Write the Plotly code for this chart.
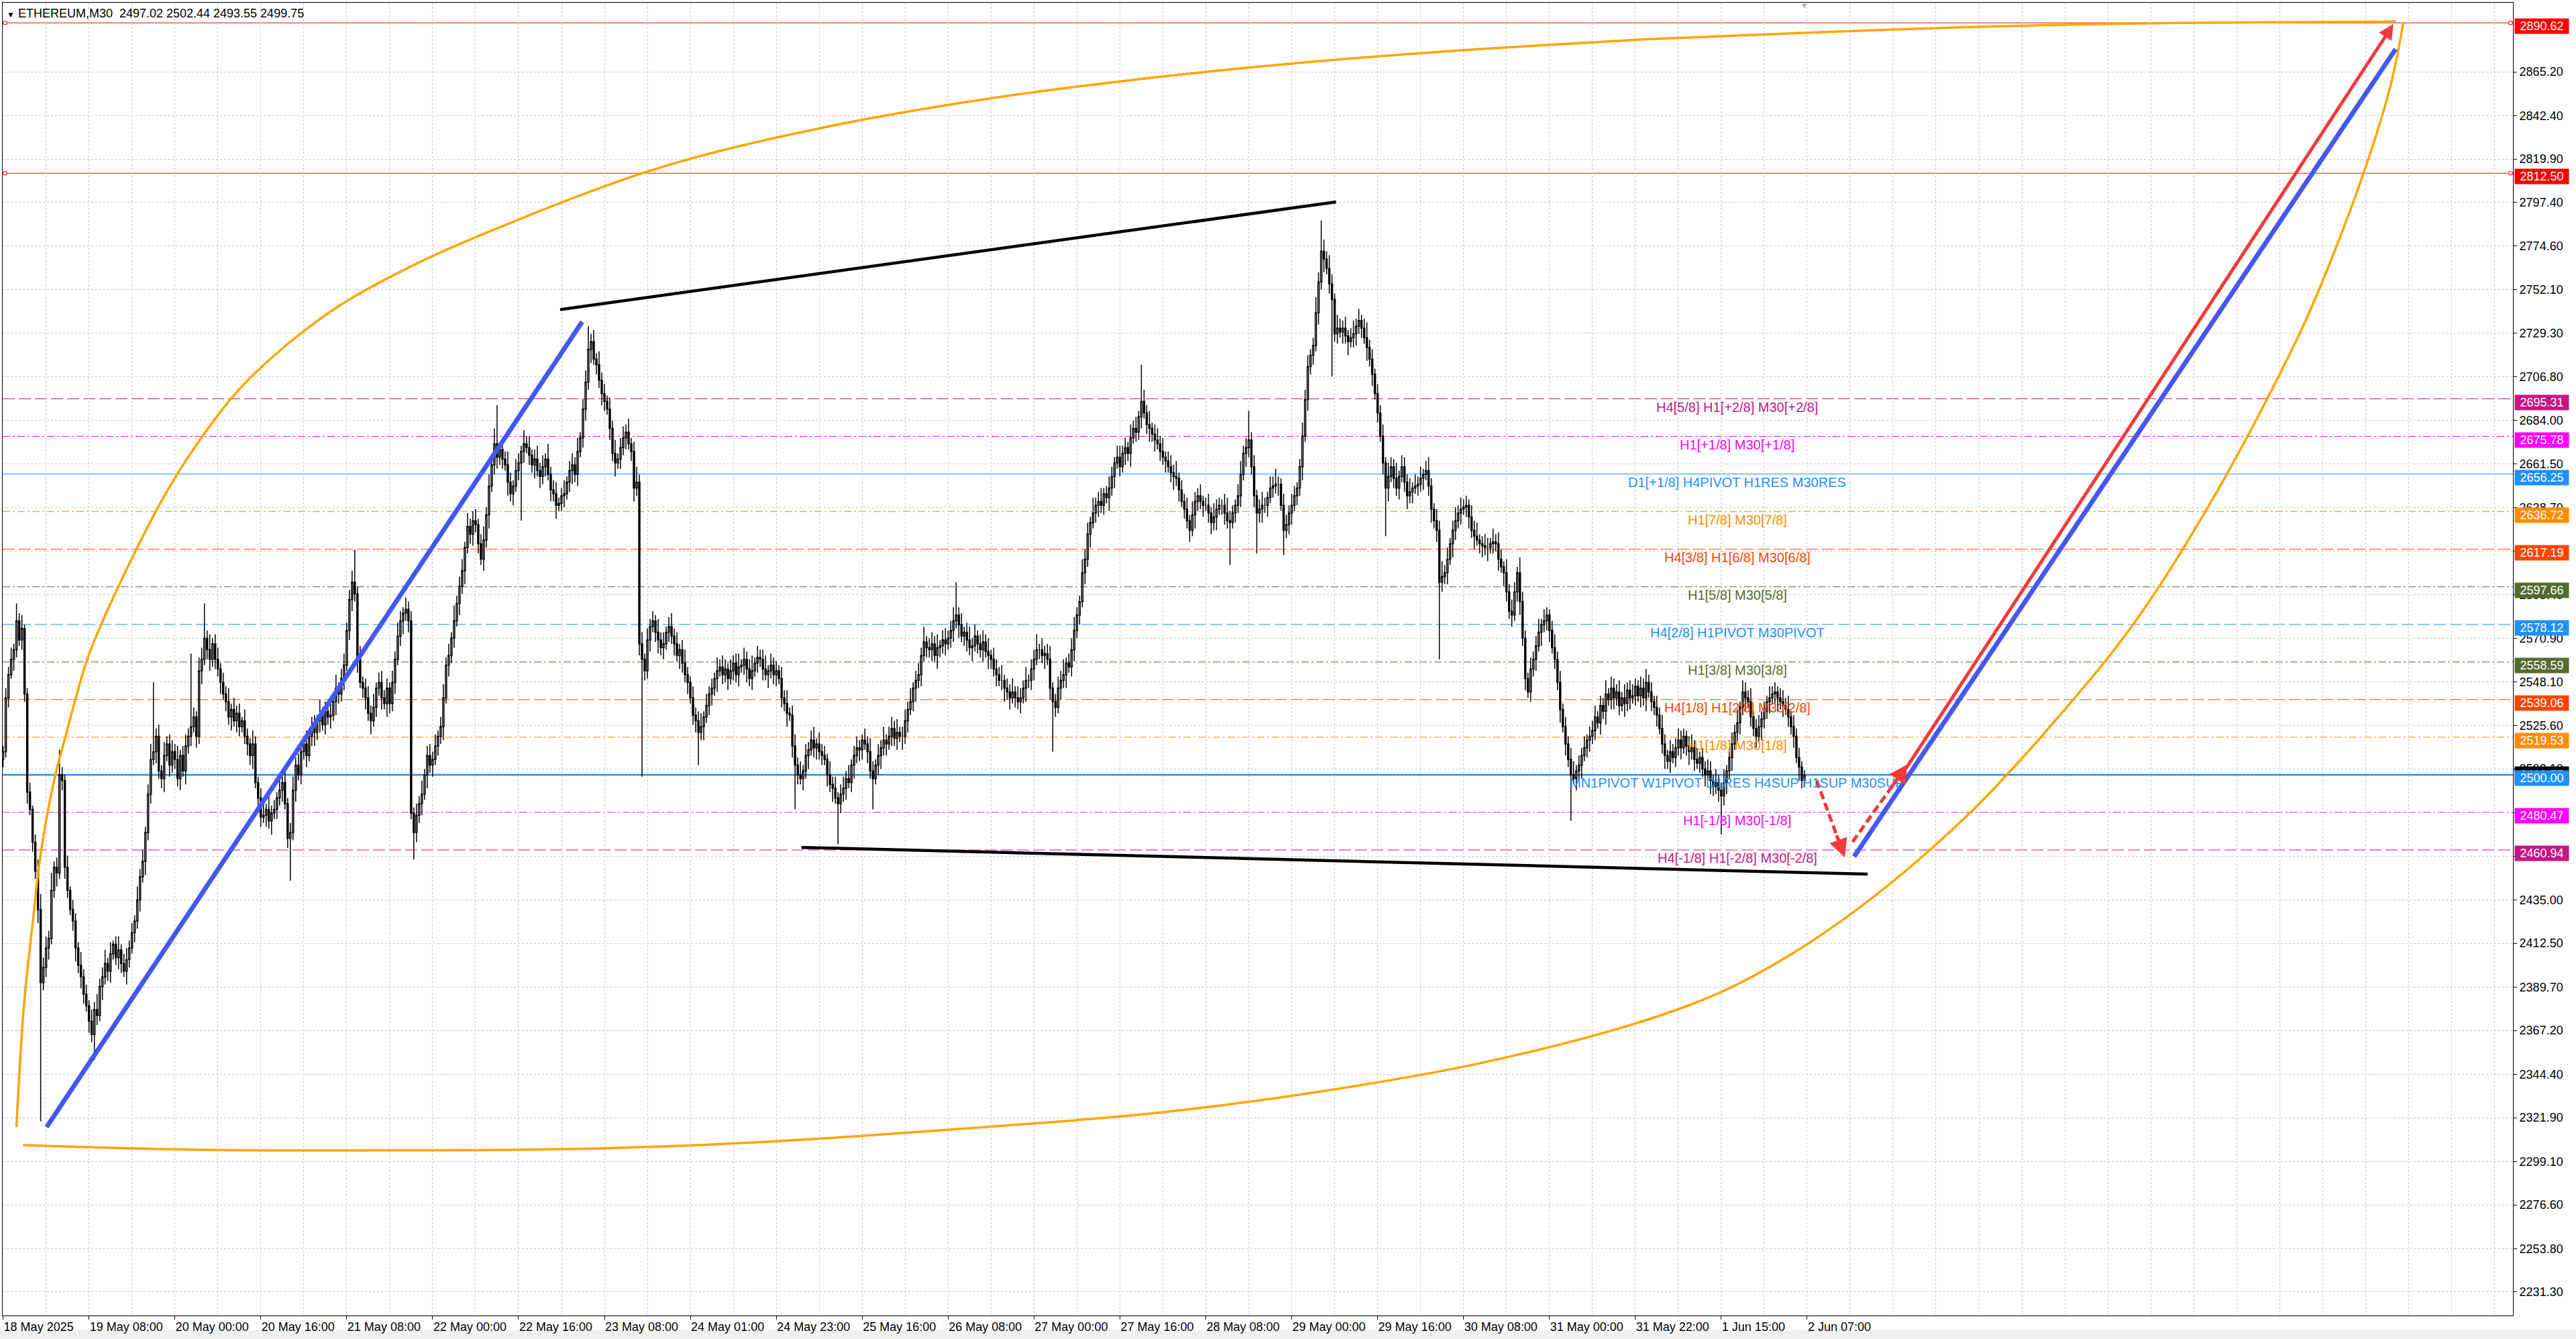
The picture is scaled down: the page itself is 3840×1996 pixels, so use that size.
import plotly.graph_objects as go

# ---------------- DATA ----------------
first_open = 2508.0
close = [
    2512,2540,2552,2560,2565,2580,2570,2576,2542,2491,2482,2465,2450,2430,2392,2400,
    2410,2415,2440,2452,2449,2500,2497,2452,2440,2430,2424,2410,2401,2395,2386,2380,
    2372,2365,2378,2375,2390,2395,2402,2398,2407,2412,2405,2409,2402,2398,2404,2410,
    2418,2424,2435,2447,2455,2470,2490,2508,2512,2520,2502,2498,2510,2516,2505,2512,
    2508,2498,2510,2502,2515,2520,2525,2530,2520,2554,2560,2571,2565,2560,2568,2560,
    2555,2548,2542,2538,2530,2534,2528,2532,2525,2528,2520,2516,2510,2516,2496,2488,
    2478,2479,2482,2476,2480,2482,2488,2492,2496,2485,2467,2470,2492,2505,2500,2512,
    2516,2510,2520,2525,2522,2528,2531,2526,2533,2530,2531,2538,2545,2542,2550,2557,
    2575,2591,2600,2594,2560,2548,2545,2540,2532,2528,2535,2545,2548,2540,2537,2545,
    2537,2548,2560,2572,2580,2584,2586,2580,2480,2470,2479,2485,2490,2500,2510,2505,
    2508,2515,2520,2525,2540,2557,2562,2571,2580,2589,2598,2606,2618,2629,2625,2632,
    2630,2620,2612,2622,2635,2650,2661,2672,2665,2669,2664,2661,2652,2646,2650,2658,
    2662,2668,2672,2670,2666,2661,2664,2658,2655,2660,2664,2656,2648,2646,2640,2641,
    2645,2646,2652,2658,2661,2656,2668,2675,2690,2704,2721,2725,2716,2713,2705,2698,
    2694,2690,2680,2667,2662,2664,2670,2675,2678,2672,2668,2649,2652,2568,2560,2554,
    2570,2577,2580,2574,2570,2566,2568,2574,2577,2572,2568,2562,2565,2558,2552,2548,
    2540,2531,2528,2522,2525,2530,2536,2542,2545,2550,2554,2556,2552,2555,2550,2554,
    2558,2552,2556,2557,2560,2555,2550,2554,2558,2561,2560,2555,2552,2554,2557,2552,
    2554,2550,2540,2537,2532,2531,2515,2505,2500,2498,2502,2510,2513,2518,2514,2516,
    2512,2510,2508,2500,2495,2493,2488,2485,2490,2493,2498,2496,2505,2510,2514,2513,
    2518,2516,2512,2502,2498,2505,2510,2514,2518,2516,2520,2524,2519,2522,2520,2520,
    2528,2534,2538,2545,2549,2552,2562,2569,2566,2565,2568,2562,2566,2567,2570,2568,
    2571,2575,2580,2583,2578,2572,2574,2570,2566,2567,2572,2568,2565,2569,2564,2562,
    2560,2555,2552,2549,2549,2545,2543,2540,2543,2540,2538,2540,2545,2549,2549,2555,
    2560,2565,2565,2562,2563,2560,2545,2538,2535,2545,2549,2552,2558,2556,2565,2575,
    2583,2590,2605,2612,2625,2631,2636,2640,2642,2640,2646,2644,2649,2655,2662,2665,
    2660,2667,2670,2667,2675,2680,2678,2686,2694,2688,2682,2680,2677,2674,2672,2668,
    2665,2663,2660,2657,2655,2654,2648,2642,2638,2632,2627,2635,2642,2645,2642,2640,
    2640,2636,2631,2634,2638,2640,2640,2636,2632,2631,2636,2640,2645,2656,2667,2670,
    2674,2660,2645,2636,2638,2640,2640,2644,2649,2650,2651,2651,2640,2627,2630,2636,
    2640,2645,2649,2660,2676,2695,2712,2718,2723,2740,2756,2772,2768,2763,2755,2747,
    2729,2732,2730,2732,2728,2725,2727,2729,2733,2736,2732,2727,2722,2716,2708,2698,
    2688,2676,2662,2649,2655,2660,2654,2649,2655,2660,2652,2645,2647,2649,2650,2651,
    2654,2656,2658,2650,2638,2632,2627,2600,2603,2605,2612,2620,2627,2632,2636,2638,
    2639,2640,2634,2627,2624,2622,2620,2619,2618,2618,2620,2621,2620,2612,2608,2605,
    2595,2585,2583,2595,2605,2590,2571,2550,2543,2555,2560,2567,2574,2578,2580,2583,
    2575,2566,2560,2548,2534,2525,2516,2508,2500,2498,2502,2505,2510,2514,2518,2520,
    2523,2530,2527,2536,2533,2542,2539,2545,2540,2543,2536,2540,2537,2544,2540,2541,
    2546,2541,2545,2540,2548,2543,2538,2535,2531,2524,2516,2510,2507,2512,2509,2514,
    2518,2514,2520,2515,2512,2514,2508,2506,2509,2503,2500,2502,2497,2494,2496,2492,
    2489,2496,2502,2509,2516,2522,2527,2535,2543,2540,2538,2530,2524,2520,2525,2529,
    2533,2538,2540,2542,2543,2540,2538,2536,2534,2530,2525,2520,2509,2504,2497.02,2499.75,
]
wick_up = [
    3,5,4,6,3,9,4,7,2,3,5,2,4,6,8,5,
    6,4,9,3,5,13,4,3,6,2,5,4,3,7,4,5,
    3,6,4,8,4,5,7,3,6,2,4,7,3,5,6,4,
    5,3,7,4,6,3,5,8,36,4,6,3,7,4,5,6,
    4,7,3,5,6,4,38,5,3,7,6,18,4,8,3,5,
    6,3,5,4,7,3,6,4,5,2,6,4,3,7,4,3,
    5,6,3,7,4,5,3,6,4,8,3,5,7,4,6,3,
    4,7,3,5,6,3,8,4,5,3,6,4,7,3,5,6,
    4,5,6,17,4,7,3,5,6,4,7,3,5,6,4,5,
    3,6,4,7,5,3,6,4,5,3,6,4,7,3,5,6,
    4,6,3,5,7,4,6,3,8,4,5,6,3,7,4,5,
    6,3,5,7,4,6,5,8,20,3,6,4,7,5,3,6,
    5,3,7,4,6,3,5,7,4,6,3,8,4,5,6,3,
    4,7,3,5,6,4,7,3,5,6,12,4,6,3,7,4,
    5,3,6,4,7,3,5,6,4,7,3,5,8,4,6,3,
    6,4,5,3,7,4,6,3,5,7,4,6,3,5,7,4,
    3,6,4,5,7,3,6,4,5,3,7,4,6,5,3,6,
    4,5,7,3,6,4,5,8,3,6,4,5,7,3,6,4,
    5,3,6,4,7,3,5,6,4,7,3,6,4,5,7,3,
    6,4,5,3,7,4,6,3,5,6,4,7,3,5,6,4,
    3,6,4,7,5,3,6,4,7,3,5,6,4,7,3,5,
    6,4,7,3,5,6,4,8,3,5,6,4,7,3,5,6,
    4,5,7,17,4,6,3,5,7,4,6,3,5,6,4,7,
    3,6,5,4,8,3,5,4,7,3,6,5,4,7,3,5,
    5,8,3,6,4,5,7,3,4,6,5,8,3,5,6,7,
    4,3,7,5,6,3,8,4,5,7,3,4,6,5,3,6,
    6,4,5,3,7,4,6,3,19,6,4,7,3,5,6,4,
    7,3,5,6,4,8,3,5,4,6,3,7,5,4,6,3,
    4,6,3,7,5,4,3,6,8,5,4,3,6,7,4,5,
    15,4,6,3,5,7,4,3,6,5,8,4,3,6,5,4,
    6,5,3,4,7,5,6,3,4,8,5,16,6,4,7,5,
    3,7,5,4,6,3,5,7,4,6,3,5,8,4,5,3,
    5,4,6,3,7,5,4,8,3,6,5,4,7,3,6,4,
    6,3,5,7,4,3,6,5,8,4,6,3,5,7,4,6,
    4,5,3,6,5,7,3,4,6,5,3,7,4,6,5,3,
    7,4,6,5,3,8,5,4,3,6,4,5,7,3,6,4,
    3,5,7,4,6,3,5,4,6,7,3,5,4,6,3,5,
    5,6,3,5,4,7,3,6,5,4,6,3,7,4,5,6,
    4,3,6,5,7,4,5,3,6,4,7,5,3,6,4,5,
    6,5,4,3,5,7,4,6,3,5,4,6,5,3,7,4,
    4,7,3,5,6,4,7,3,6,5,4,7,3,5,6,4,
    5,3,6,4,5,3,5,6,4,7,3,6,4,5,3,2.69,
]
wick_dn = [
    4,3,5,2,6,4,3,5,4,6,3,5,4,7,72,4,
    5,6,3,4,7,3,5,6,4,3,5,7,4,6,5,3,
    6,4,13,5,3,7,4,5,6,3,4,6,5,3,7,4,
    3,5,4,6,3,7,4,5,3,6,4,5,7,3,6,4,
    5,4,6,3,7,4,5,3,6,4,7,3,5,6,4,5,
    4,6,3,5,4,7,3,6,5,3,4,6,5,7,3,6,
    5,3,6,4,7,3,5,4,6,3,5,22,4,6,3,5,
    4,6,3,5,7,4,6,3,5,4,6,3,7,5,4,6,
    3,5,6,4,7,3,5,6,4,7,3,5,4,6,3,7,
    5,4,6,3,5,7,4,6,3,14,5,4,6,3,7,4,
    6,3,5,4,7,3,6,4,5,3,6,4,7,3,5,6,
    4,5,3,6,4,7,3,5,6,4,5,3,7,4,6,3,
    5,30,6,3,5,4,7,3,6,4,5,3,6,4,7,3,
    4,6,3,5,7,4,6,3,5,6,4,7,3,5,4,6,
    5,3,6,4,7,3,5,4,6,3,5,7,4,6,61,5,
    4,6,3,5,7,4,6,3,5,4,6,3,7,5,4,6,
    3,5,6,17,4,7,3,5,6,4,7,3,5,4,6,3,
    5,4,6,3,5,7,4,6,3,5,4,6,3,7,4,5,
    6,3,5,4,7,3,6,23,5,3,6,4,7,3,5,6,
    4,5,3,6,4,7,3,21,5,4,6,3,5,7,4,6,
    5,3,6,4,16,3,5,7,4,6,3,5,4,6,3,7,
    4,6,3,5,7,4,6,3,5,4,6,3,7,5,4,6,
    3,5,6,4,7,3,5,6,4,7,3,5,4,6,3,7,
    5,4,6,3,5,7,4,6,3,5,4,6,3,7,4,5,
    6,3,5,4,7,3,6,26,5,3,6,4,7,3,5,6,
    4,5,3,6,4,7,3,5,6,4,5,3,7,4,6,3,
    5,3,6,4,7,3,5,4,6,3,5,7,4,6,3,5,
    4,6,3,5,7,4,6,3,5,4,6,3,7,5,4,6,
    3,5,6,4,7,3,5,6,4,22,3,5,4,6,3,7,
    5,4,6,21,5,7,4,6,3,5,4,6,3,13,4,5,
    6,3,5,4,7,3,6,4,5,3,6,4,7,3,5,40,
    4,5,3,6,4,7,3,5,6,4,5,3,7,4,6,3,
    5,3,6,25,7,3,5,4,6,3,5,7,4,6,3,5,
    4,6,3,5,7,4,6,40,5,4,6,3,7,5,4,6,
    3,5,6,4,7,3,5,6,4,7,3,5,4,6,3,7,
    5,4,6,3,5,7,4,6,3,5,4,6,3,7,4,5,
    6,3,5,4,7,3,6,4,24,3,6,4,7,3,5,6,
    4,5,3,6,4,7,3,5,6,4,5,3,7,4,6,3,
    5,3,6,4,7,3,5,4,6,3,5,7,4,6,3,5,
    4,6,3,5,7,4,6,3,5,4,6,3,7,5,4,6,
    20,5,6,4,7,3,5,6,4,7,3,5,4,6,3,7,
    5,4,6,3,5,7,4,6,3,5,4,6,3,7,4,3.47,
]

x_tick_bars = [0, 32, 64, 96, 128, 160, 192, 224, 256, 288, 320, 352, 384, 416,
               448, 480, 512, 544, 576, 608, 640, 672]
x_tick_text = ["18 May 2025", "19 May 08:00", "20 May 00:00", "20 May 16:00",
               "21 May 08:00", "22 May 00:00", "22 May 16:00", "23 May 08:00",
               "24 May 01:00", "24 May 23:00", "25 May 16:00", "26 May 08:00",
               "27 May 00:00", "27 May 16:00", "28 May 08:00", "29 May 00:00",
               "29 May 16:00", "30 May 08:00", "31 May 00:00", "31 May 22:00",
               "1 Jun 15:00", "2 Jun 07:00"]
y_ticks = [2865.20, 2842.40, 2819.90, 2797.40, 2774.60, 2752.10, 2729.30, 2706.80,
           2684.00, 2661.50, 2638.70, 2616.20, 2593.40, 2570.90, 2548.10, 2525.60,
           2503.10, 2480.30, 2457.80, 2435.00, 2412.50, 2389.70, 2367.20, 2344.40,
           2321.90, 2299.10, 2276.60, 2253.80, 2231.30]

level_prices = [2890.62, 2812.50, 2695.31, 2675.78, 2656.25, 2636.72, 2617.19,
                2597.66, 2578.12, 2558.59, 2539.06, 2519.53, 2500.00, 2480.47, 2460.94]
level_colors = ["#FF0000", "#FF0000", "#C71585", "#FF00FF", "#1E90FF", "#FF8C00",
                "#FF4500", "#556B2F", "#1E90FF", "#556B2F", "#FF4500", "#FF8C00",
                "#1E90FF", "#FF00FF", "#C71585"]
level_styles = ["solid", "solid", "dash", "dashdot", "solid", "dashdot", "dash",
                "dashdot", "dash", "dashdot", "dash", "dashdot", "thick", "dashdot", "dash"]
level_labels = ["", "", "H4[5/8] H1[+2/8] M30[+2/8]", "H1[+1/8] M30[+1/8]",
                "D1[+1/8] H4PIVOT H1RES M30RES", "H1[7/8] M30[7/8]",
                "H4[3/8] H1[6/8] M30[6/8]", "H1[5/8] M30[5/8]",
                "H4[2/8] H1PIVOT M30PIVOT", "H1[3/8] M30[3/8]",
                "H4[1/8] H1[2/8] M30[2/8]", "H1[1/8] M30[1/8]",
                "MN1PIVOT W1PIVOT D1RES H4SUP H1SUP M30SUP",
                "H1[-1/8] M30[-1/8]", "H4[-1/8] H1[-2/8] M30[-2/8]"]
header_text = "ETHEREUM,M30  2497.02 2502.44 2493.55 2499.75"
last_price = 2499.75

# drawn objects (bar index, price)
curve_a_bar = [4.97, 7.77, 11.1, 13.3, 16.3, 19.6, 23.1, 27.1, 31.3, 36.3, 43.8, 52.1,
               60.1, 72.3, 90.5, 121.3, 151.8, 182.5, 243.7, 304.7, 365.9, 427.1,
               488.4, 549.6, 610.8, 672.0, 733.2, 794.4, 855.7, 891.2]
curve_a_price = [2317.0, 2380.4, 2424.0, 2451.9, 2478.4, 2500.7, 2519.1, 2540.0, 2559.9,
                 2577.3, 2600.3, 2624.0, 2645.0, 2672.0, 2704.0, 2740.0, 2764.0, 2783.0,
                 2815.0, 2836.0, 2851.0, 2862.0, 2870.5, 2877.0, 2882.0, 2885.5, 2888.5,
                 2890.3, 2891.0, 2891.3]
curve_b_bar = [7.35, 73.8, 146.0, 222.0, 289.0, 348.7, 427.1, 488.4, 549.6, 610.8, 641.3,
               672.0, 702.5, 733.2, 763.7, 794.4, 825.0, 855.7, 867.9, 880.1, 889.3, 894.1]
curve_b_price = [2307.6, 2305.2, 2304.9, 2305.9, 2309.7, 2315.3, 2324.0, 2335.0, 2350.0,
                 2372.0, 2388.0, 2412.0, 2443.0, 2481.0, 2527.0, 2580.0, 2648.0, 2730.0,
                 2770.0, 2816.0, 2858.0, 2891.0]
black_upper_bar = [207.5, 496.5]
black_upper_price = [2741.7, 2797.6]
black_lower_bar = [297.4, 694.5]
black_lower_price = [2462.3, 2448.4]
blue_left_bar = [16.2, 215.7]
blue_left_price = [2317.0, 2735.3]
blue_right_bar = [689.5, 891.2]
blue_right_price = [2457.5, 2877.0]
red_arrow_bar = [708.7, 890.4]
red_arrow_price = [2503.1, 2890.0]
red_dash1_bar = [675.5, 686.0]
red_dash1_price = [2497.2, 2457.1]
red_dash2_bar = [688.9, 709.5]
red_dash2_price = [2465.1, 2505.5]

# ---------------- FIGURE ----------------
W, H = 3840, 1996
ML, MR, MT, MB = 4, 94, 4, 35
FONT = "Liberation Sans, Arial, sans-serif"

opens = [first_open] + close[:-1]
highs = [max(o, c) + u for o, c, u in zip(opens, close, wick_up)]
lows = [min(o, c) - d for o, c, d in zip(opens, close, wick_dn)]
bars = list(range(len(close)))

fig = go.Figure()
fig.add_trace(go.Candlestick(
    x=bars, open=opens, high=highs, low=lows, close=close,
    increasing=dict(line=dict(color="black", width=1.5), fillcolor="white"),
    decreasing=dict(line=dict(color="black", width=1.5), fillcolor="black"),
    whiskerwidth=0, hoverinfo="skip", showlegend=False))

dash_map = {"solid": "solid", "thick": "solid", "dash": "18px,6px",
            "dashdot": "11px,4px,3px,4px"}
shapes = []
annotations = []
for p, col, st, lab in zip(level_prices, level_colors, level_styles, level_labels):
    shapes.append(dict(type="line", xref="paper", x0=0, x1=1, yref="y", y0=p, y1=p,
                       line=dict(color=col, width=2.5 if st == "thick" else 1,
                                 dash=dash_map[st]), layer="below"))
    if lab:
        annotations.append(dict(x=646, y=p, xref="x", yref="y", text=lab, showarrow=False,
                                yshift=-12, yanchor="middle", xanchor="center",
                                font=dict(family=FONT, size=20, color=col)))

# small squares at ends of the red price lines
for p, col in zip(level_prices, level_colors):
    if col == "#FF0000":
        for xa, x0, x1 in ((-0.15, 1, 6), (934.9, -6, -1)):
            shapes.append(dict(type="rect", xref="x", xsizemode="pixel", xanchor=xa,
                               x0=x0, x1=x1, yref="y", ysizemode="pixel", yanchor=p,
                               y0=-2.5, y1=2.5, line=dict(color=col, width=1),
                               fillcolor="white", layer="above"))

# bottom window strip
shapes.append(dict(type="rect", xref="paper", yref="paper",
                   x0=-ML / (W - ML - MR), x1=(W - ML) / (W - ML - MR),
                   y0=-MB / (H - MT - MB), y1=-(MB - 13) / (H - MT - MB),
                   fillcolor="#F0F0F0", line=dict(width=0), layer="below"))

# drawn lines
def add_line(xs, ys, color, width, dash="solid", shape="linear"):
    fig.add_trace(go.Scatter(x=xs, y=ys, mode="lines", hoverinfo="skip", showlegend=False,
                             line=dict(color=color, width=width, dash=dash, shape=shape)))

add_line(curve_a_bar, curve_a_price, "#FFA500", 3.5, shape="spline")
add_line(curve_b_bar, curve_b_price, "#FFA500", 3.5, shape="spline")
add_line(black_upper_bar, black_upper_price, "black", 4.5)
add_line(black_lower_bar, black_lower_price, "black", 4.5)
add_line(blue_left_bar, blue_left_price, "#4458F0", 7)
add_line(blue_right_bar, blue_right_price, "#4458F0", 7)
add_line(red_dash1_bar[:1] + [red_dash1_bar[1] - 1.6],
         red_dash1_price[:1] + [red_dash1_price[1] + 6.1], "#F23A3A", 5, dash="12px,6px")
add_line(red_dash2_bar[:1] + [red_dash2_bar[1] - 2.0],
         red_dash2_price[:1] + [red_dash2_price[1] - 3.9], "#F23A3A", 5, dash="12px,6px")

# arrow heads
annotations.append(dict(x=red_arrow_bar[1], y=red_arrow_price[1], ax=red_arrow_bar[0],
                        ay=red_arrow_price[0], xref="x", yref="y", axref="x", ayref="y",
                        text="", showarrow=True, arrowhead=2, arrowsize=0.9, arrowwidth=5,
                        arrowcolor="#F23A3A", standoff=0))
for xs, ys in ((red_dash1_bar, red_dash1_price), (red_dash2_bar, red_dash2_price)):
    annotations.append(dict(x=xs[1], y=ys[1], ax=xs[1] - (xs[1] - xs[0]) * 0.3,
                            ay=ys[1] - (ys[1] - ys[0]) * 0.3, xref="x", yref="y",
                            axref="x", ayref="y", text="", showarrow=True, arrowhead=2,
                            arrowsize=1.1, arrowwidth=5, arrowcolor="#F23A3A", standoff=0))

# right-side price boxes
annotations.append(dict(x=1, xref="paper", xanchor="left", xshift=2, y=last_price, yref="y",
                        yshift=1, text=f"{last_price:.2f}", showarrow=False, bgcolor="black",
                        width=78, height=22, borderpad=1,
                        font=dict(family=FONT, size=18, color="white")))
for p, col in zip(level_prices, level_colors):
    annotations.append(dict(x=1, xref="paper", xanchor="left", xshift=2, y=p, yref="y",
                            yshift=-5, text=f"{p:.2f}", showarrow=False, bgcolor=col,
                            width=78, height=20, borderpad=1,
                            font=dict(family=FONT, size=18, color="white")))

# header
annotations.append(dict(x=0, y=1, xref="paper", yref="paper", xanchor="left", yanchor="middle",
                        xshift=4, yshift=-16, showarrow=False,
                        text="<span style='font-size:12px'>▼</span> " + header_text,
                        font=dict(family=FONT, size=18, color="black")))
annotations.append(dict(x=bars[-1], y=1, xref="x", yref="paper", yanchor="top", yshift=4,
                        showarrow=False, text="▼", font=dict(size=11, color="#A0A0A0")))

fig.update_layout(
    width=W, height=H, autosize=False,
    margin=dict(l=ML, r=MR, t=MT, b=MB, pad=0),
    paper_bgcolor="white", plot_bgcolor="white",
    font=dict(family=FONT, size=18, color="black"),
    showlegend=False, shapes=shapes, annotations=annotations, hovermode=False,
    xaxis=dict(range=[-0.15, 934.9], tickmode="array", tickvals=x_tick_bars,
               ticktext=x_tick_text, ticks="outside", ticklen=5, tickcolor="black",
               ticklabelposition="outside right", showgrid=False, zeroline=False,
               showline=True, linecolor="black", linewidth=1, mirror=True,
               rangeslider=dict(visible=False), fixedrange=True,
               minor=dict(tickmode="array", tickvals=list(range(0, 935, 16)), showgrid=True,
                          gridcolor="#C8C8C8", griddash="3px,3px", gridwidth=1, ticks="")),
    yaxis=dict(range=[2219.1, 2901.1], side="right", tickmode="array", tickvals=y_ticks,
               ticktext=[f"{v:.2f}" for v in y_ticks], ticks="outside", ticklen=5,
               tickcolor="black", showgrid=True, gridcolor="#C8C8C8", griddash="3px,3px",
               zeroline=False, showline=True, linecolor="black", linewidth=1, mirror=True,
               fixedrange=True),
)

fig.write_html("out.html", include_plotlyjs=True, full_html=True,
               config={"displayModeBar": False, "staticPlot": True},
               post_script="document.body.style.margin='0';document.body.style.overflow='hidden';")
